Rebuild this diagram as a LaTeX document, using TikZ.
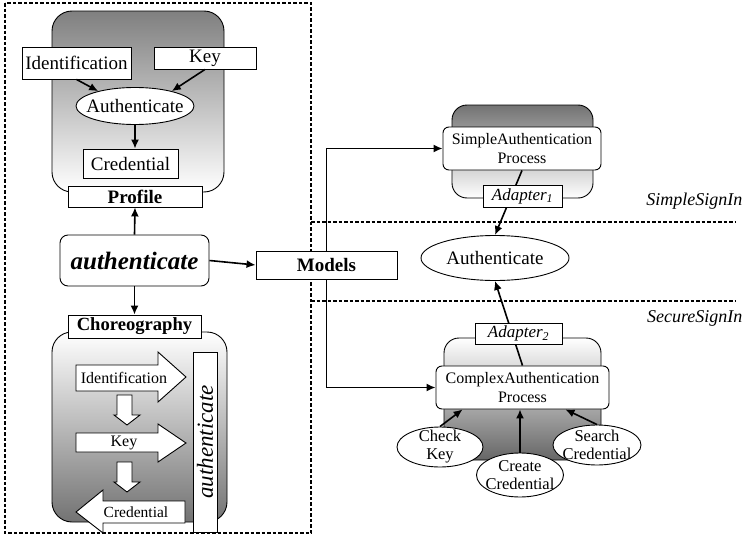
\documentclass[tikz,border=0pt]{standalone}
\usepackage{fontspec}
\setmainfont{Liberation Serif}
\usetikzlibrary{arrows.meta}
\usetikzlibrary{shapes.geometric}
\newcommand\fs[2]{\fontsize{#1}{#2}\selectfont}

\tikzset{
  box/.style={draw, fill=white, line width=0.9pt, inner sep=0pt, align=center},
  proc/.style={box, rounded corners=6pt},
  oval/.style={ellipse, draw, fill=white, line width=0.9pt, inner sep=-12pt, align=center},
  conn/.style={-{Latex[length=9pt,width=8pt]}, line width=1.6pt},
  group/.style={draw, line width=0.9pt, rounded corners=20pt},
  fence/.style={line width=1.1pt, dash pattern=on 3.5pt off 2pt},
  bigarrow/.style={draw, fill=white, line width=0.9pt},
}

\begin{document}
\begin{tikzpicture}[x=1pt,y=-1pt]
\useasboundingbox (0,0) rectangle (756,538);
\draw[fence] (5,3) rectangle (311,533);
\draw[fence] (311,222) -- (735,222);
\draw[fence] (311,301) -- (735,301);

% profile and choreography
\draw[group, top color=black!50, bottom color=white] (52,11) rectangle (224,192);
\draw[group, top color=white, bottom color=black!55] (52,332) rectangle (227,522);
\node[box, minimum width=109pt, minimum height=32pt, font=\fs{19}{22}] (ident) at (76.5,63) {Identification};
\node[box, minimum width=102pt, minimum height=22pt, font=\fs{19}{22}] (keyL) at (205,58) {Key};
\node[oval, minimum width=118pt, minimum height=37pt, font=\fs{19}{22}] (authL) at (135,106) {Authenticate};
\node[box, minimum width=95pt, minimum height=29pt, font=\fs{19}{22}] (credL) at (130.5,163.5) {Credential};
\node[box, minimum width=134pt, minimum height=21pt, font=\fs{19}{22}\bfseries] (profile) at (135,196.5) {Profile};
\node[proc, rounded corners=8pt, minimum width=149pt, minimum height=51pt, font=\fs{25}{28}\bfseries\itshape] (authn) at (134.5,260.5) {authenticate};
\node[box, minimum width=133pt, minimum height=23pt, font=\fs{18.6}{22}\bfseries] (choreo) at (134.5,326.5) {Choreography};
\node[box, minimum width=141pt, minimum height=28pt, font=\fs{19}{22}\bfseries] (models) at (326.5,265) {Models};

\draw[conn] (ident.south) -- (authL.158);
\draw[conn] (keyL.south) -- (authL.22);
\draw[conn] (authL.south) -- (authL.south |- credL.north);
\draw[conn] (authn.north) -- (profile.south);
\draw[conn] (authn.south) -- (choreo.north);
\draw[conn] (authn.east) -- (models.west);

\draw[bigarrow] (76,365) -- (158,365) -- (158,352) -- (186,377) -- (158,402) -- (158,391) -- (76,391) -- cycle;
\draw[bigarrow] (76,433) -- (158,433) -- (158,424) -- (186,443) -- (158,462) -- (158,452) -- (76,452) -- cycle;
\draw[bigarrow] (185,501) -- (103,501) -- (103,490) -- (76,512) -- (103,533) -- (103,523) -- (185,523) -- cycle;
\foreach \y in {395,462}
  \draw[bigarrow] (117,\y) -- (132,\y) -- (132,\y+20) -- (140,\y+20) -- (127,\y+30) -- (114,\y+20) -- (117,\y+20) -- cycle;
\node[font=\fs{16}{19}] (stepId) at (124,378) {Identification};
\node[font=\fs{16}{19}] (stepKey) at (124,443) {Key};
\node[font=\fs{15.5}{19}] (stepCred) at (136,512) {Credential};
\node[box, rotate=90, minimum width=180pt, minimum height=24pt, font=\fs{23}{26}\itshape] (authv) at (205,442) {authenticate};

% sign in variants
\draw[group, rounded corners=15pt, top color=black!55, bottom color=white] (452,105) rectangle (593,198);
\draw[group, rounded corners=15pt, top color=white, bottom color=black!60] (444,338) rectangle (601,460);
\node[proc, minimum width=158pt, minimum height=43pt, font=\fs{16}{19}] (simple) at (522,148.5) {SimpleAuthentication\\Process};
\node[oval, minimum width=148pt, minimum height=45pt, font=\fs{19}{22}] (authR) at (495,258) {Authenticate};
\node[proc, minimum width=173pt, minimum height=43pt, font=\fs{16}{19}] (complex) at (522.5,387.5) {ComplexAuthentication\\Process};
\draw[conn] (simple.south) -- (authR.north);
\draw[conn] (complex.north) -- (authR.south);
\node[box, minimum width=79pt, minimum height=22pt, font=\fs{17}{20}\itshape] (adapterA) at (522.5,196) {Adapter\textsubscript{1}};
\node[box, minimum width=87pt, minimum height=21pt, font=\fs{17}{20}\itshape] (adapterB) at (518.5,333.5) {Adapter\textsubscript{2}};
\draw[conn] (models.north) |- (simple.west);
\draw[conn] (models.south) |- (complex.west);

\node[oval, minimum width=86pt, minimum height=40pt, font=\fs{16.5}{18}] (checkKey) at (440,447) {Check\\Key};
\node[oval, minimum width=88pt, minimum height=40pt, font=\fs{16.5}{18}] (searchCred) at (597,445) {Search\\Credential};
\node[oval, minimum width=87pt, minimum height=44pt, font=\fs{16.5}{18}] (createCred) at (520,475) {Create\\Credential};
\draw[conn] (checkKey.north) -- ([xshift=27pt]complex.south west);
\draw[conn] (createCred.north) -- (createCred.north |- complex.south);
\draw[conn] (searchCred.north) -- ([xshift=-44pt]complex.south east);

\node[anchor=east, font=\fs{18}{21}\itshape] (simpleIn) at (746,201) {SimpleSignIn};
\node[anchor=east, font=\fs{18}{21}\itshape] (secureIn) at (746,318) {SecureSignIn};
\end{tikzpicture}
\end{document}
